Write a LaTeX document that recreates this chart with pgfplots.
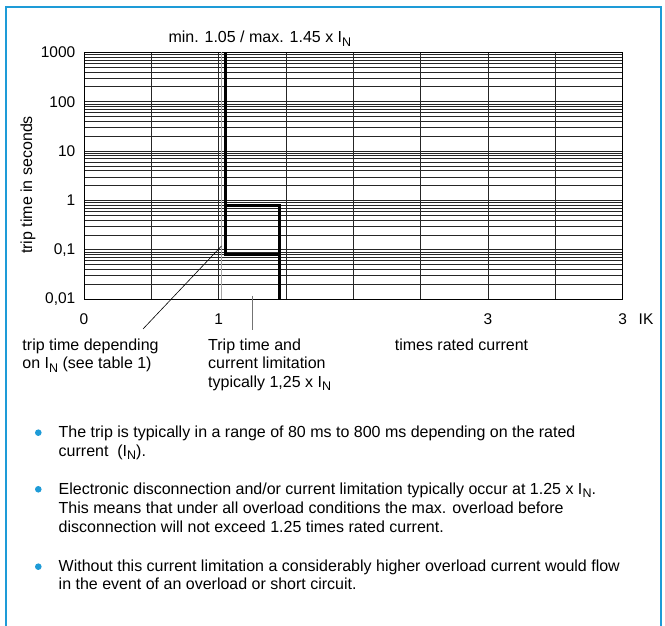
\documentclass[border=0pt]{standalone}
\usepackage{pgfplots}
\pgfplotsset{compat=1.18}
\usepackage{fontspec}
\setmainfont{Liberation Sans}
\definecolor{framecol}{RGB}{30,155,215}
\newcommand{\IN}{I\raisebox{-3.5pt}{\fontsize{12.5}{12.5}\selectfont N}}

\begin{document}
\begin{tikzpicture}[x=1pt,y=1pt,font=\fontsize{16}{19}\selectfont]
\useasboundingbox (0,0) rectangle (665,626);
% frame round the figure
\draw[framecol, line width=2pt] (5.5,0) -- (5.5,618.5) -- (660.5,618.5) -- (660.5,0);

\begin{axis}[
    at={(84pt,326.7pt)}, anchor=south west,
    width=538.7pt, height=247pt, scale only axis,
    xmin=0, xmax=4,
    ymode=log, ymin=0.01, ymax=1000,
    xtick={0,1,3,4}, xticklabels={0,1,3,3},
    minor xtick={0.5,1.5,2,2.5,3.5},
    ytick={0.01,0.1,1,10,100,1000},
    yticklabels={{0,01},{0,1},1,10,100,1000},
    minor ytick={0.02,0.03,0.04,0.05,0.06,0.07,0.08,0.09,
                 0.2,0.3,0.4,0.5,0.6,0.7,0.8,0.9,
                 2,3,4,5,6,7,8,9,
                 20,30,40,50,60,70,80,90,
                 200,300,400,500,600,700,800,900},
    grid=both,
    major grid style={black!85, line width=0.8pt},
    minor grid style={black!85, line width=0.8pt},
    major tick length=0pt, minor tick length=0pt,
    axis line style={black, line width=1pt},
    tick label style={font=\fontsize{15.5}{16}\selectfont},
    xticklabel style={anchor=base, yshift=-25.7pt},
    yticklabel style={anchor=east, inner sep=0pt, xshift=-8.5pt},
    clip=false,
]
% faint line beside 1
\addplot[black!35, line width=0.8pt] coordinates {(1.02,0.01) (1.02,1000)};
% trip characteristic
\addplot[black, line width=2.6pt, line join=miter] coordinates {
    (1.05,1000) (1.05,0.08) (1.45,0.08) (1.45,0.01)};
\addplot[black, line width=2.6pt, line join=miter] coordinates {
    (1.05,0.8) (1.45,0.8) (1.45,0.08)};
\end{axis}

% labels
\node[anchor=base west, inner sep=0pt] at (168.3,583) {min. 1.05 / max. 1.45 x \IN};
\node[rotate=90, inner sep=0pt] at (28,441) {trip time in seconds};
\node[anchor=base west, inner sep=0pt, font=\fontsize{15.5}{16}\selectfont] at (638.5,301) {IK};

% pointers
\draw[black, line width=0.6pt] (221.5,380) -- (143,297);
\draw[black!55, line width=1pt] (252,330) -- (252,296);

\node[anchor=base west, inner sep=0pt] at (22.3,275.5) {trip time depending};
\node[anchor=base west, inner sep=0pt] at (22.3,257) {on \IN{} (see table 1)};
\node[anchor=base west, inner sep=0pt] at (208,275.5) {Trip time and};
\node[anchor=base west, inner sep=0pt] at (208,257) {current limitation};
\node[anchor=base west, inner sep=0pt] at (208,238.5) {typically 1,25 x \IN};
\node[anchor=base west, inner sep=0pt] at (394.6,275.5) {times rated current};

% bullet list
\fill[framecol] (38.3,193.3) circle (3.3);
\fill[framecol] (38.3,136.7) circle (3.3);
\fill[framecol] (38.3,59.3) circle (3.3);
\node[anchor=base west, inner sep=0pt] at (58.5,188.5) {The trip is typically in a range of 80 ms to 800 ms depending on the rated};
\node[anchor=base west, inner sep=0pt] at (58.5,169.5) {current\ \ (\IN).};
\node[anchor=base west, inner sep=0pt] at (58.5,131.5) {Electronic disconnection and/or current limitation typically occur at 1.25 x \IN.};
\node[anchor=base west, inner sep=0pt] at (58.5,112.5) {This means that under all overload conditions the max. overload before};
\node[anchor=base west, inner sep=0pt] at (58.5,93.5) {disconnection will not exceed 1.25 times rated current.};
\node[anchor=base west, inner sep=0pt] at (58.5,54.5) {Without this current limitation a considerably higher overload current would flow};
\node[anchor=base west, inner sep=0pt] at (58.5,36) {in the event of an overload or short circuit.};
\end{tikzpicture}
\end{document}
